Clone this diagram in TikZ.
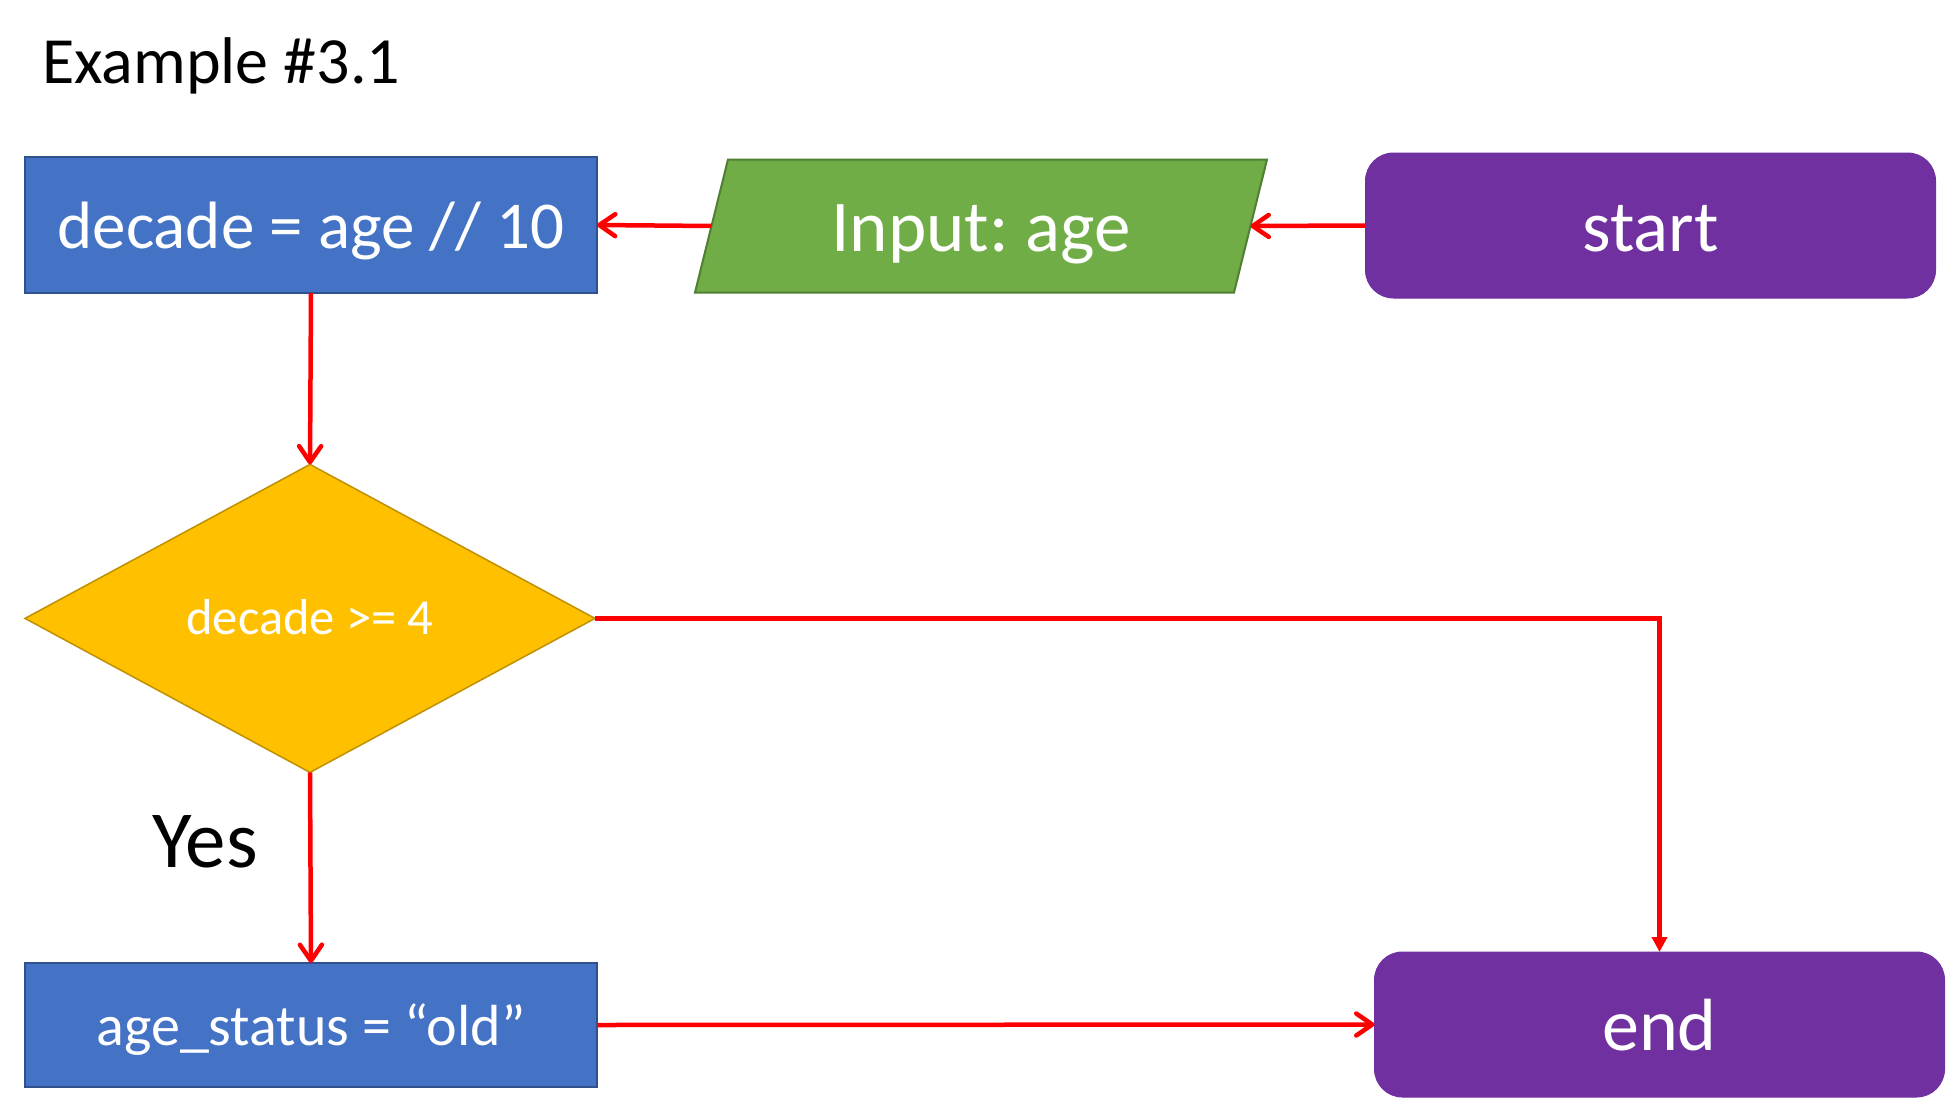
\documentclass[tikz,border=0pt]{standalone}
\usepackage{fontspec}
\setmainfont{Carlito}
\frenchspacing
\usetikzlibrary{arrows.meta,shapes.geometric,backgrounds}
\definecolor{boxblue}{HTML}{4472C4}
\definecolor{boxblueline}{HTML}{2F528F}
\definecolor{diagold}{HTML}{FFC000}
\definecolor{diagoldline}{HTML}{BF9000}
\definecolor{iogreen}{HTML}{70AD47}
\definecolor{iogreenline}{HTML}{507E32}
\definecolor{termpurple}{HTML}{7030A0}
\definecolor{flowred}{HTML}{FF0000}
\newcommand\bltext[2]{\raisebox{-#1pt}[0pt][0pt]{#2}}
\tikzset{
  procbox/.style={rectangle, fill=boxblue, draw=boxblueline, line width=2pt,
    text=white, inner sep=0pt, outer sep=0pt},
  termbox/.style={rectangle, rounded corners=28pt, fill=termpurple, draw=termpurple,
    line width=1pt, text=white, inner sep=0pt, outer sep=0pt,
    minimum width=570pt, minimum height=145pt},
  decbox/.style={diamond, fill=diagold, draw=diagoldline, line width=1.5pt,
    text=white, inner sep=0pt, outer sep=0pt, aspect=1.85,
    minimum width=570pt, minimum height=308pt},
  iobox/.style={rectangle, text=white, inner sep=0pt, outer sep=0pt,
    minimum width=539pt, minimum height=133pt},
  flow/.style={draw=flowred, line width=4.5pt,
    -{Straight Barb[length=16pt,width=22pt,round]}},
  flowtri/.style={draw=flowred, line width=4.5pt,
    -{Triangle[length=15pt,width=15pt]}},
}
\begin{document}
\begin{tikzpicture}[x=1pt,y=-1pt]
\useasboundingbox (0,0) rectangle (1946,1116);

\node[anchor=base west, inner sep=0pt, font=\fontsize{66}{78}\selectfont] (title) at (42,83.6) {Example \#3.1};

\node[procbox, minimum width=572pt, minimum height=136pt,
  font=\fontsize{67}{80}\selectfont] (decade) at (311,225) {\bltext{23}{decade = age // 10}};

\node[iobox, font=\fontsize{73}{86}\selectfont] (input) at (981,226) {\bltext{25}{Input: age}};
\begin{scope}[on background layer]
\fill[white] (0,0) rectangle (1946,1116);
\draw[fill=iogreen, draw=iogreenline, line width=2pt, line join=miter]
  ([xshift=-16.5pt]input.south west) -- ([xshift=16.5pt]input.north west)
  -- ([xshift=16.5pt]input.north east) -- ([xshift=-16.5pt]input.south east) -- cycle;
\end{scope}

\node[termbox, font=\fontsize{73}{86}\selectfont] (start) at (1650.5,225.5) {\bltext{25.5}{start}};

\node[decbox, font=\fontsize{50.5}{60}\selectfont] (cond) at (310,618.4) {\bltext{16}{decade >= 4}};

\node[anchor=base, inner sep=0pt, font=\fontsize{81}{96}\selectfont] (yes) at (205,867) {Yes};

\node[procbox, minimum width=572pt, minimum height=124pt,
  font=\fontsize{58}{68}\selectfont] (status) at (311,1025) {\bltext{20}{age\_status = “old”}};

\node[termbox, font=\fontsize{74}{88}\selectfont] (end) at (1659.5,1024.5) {\bltext{25.5}{end}};

\draw[flow] (start.west) -- (input.east);
\draw[flow] (input.west) -- (decade.east);
\draw[flow] (decade.south) -- (cond.north);
\draw[flow] (cond.south) -- (status.north);
\draw[flowtri] (cond.east) -| (end.north);
\draw[flow] (status.east) -- (end.west);
\end{tikzpicture}
\end{document}
